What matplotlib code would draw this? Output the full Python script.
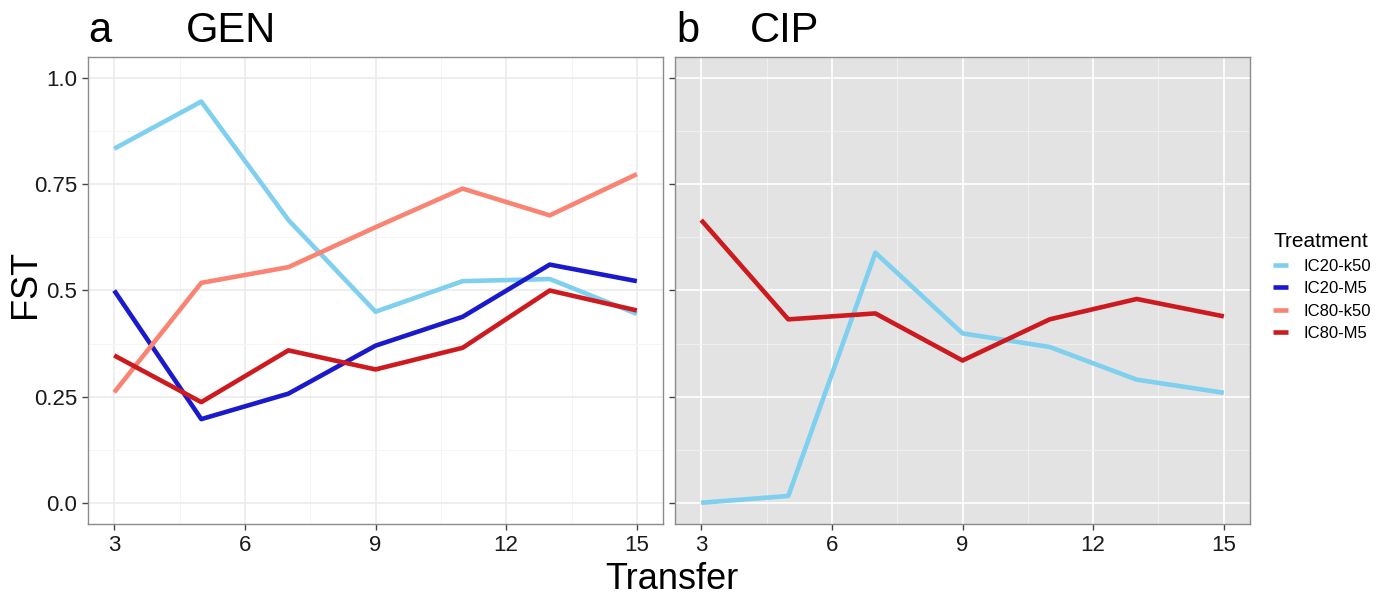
import matplotlib
matplotlib.use("Agg")
import matplotlib.pyplot as plt
import numpy as np

plt.rcParams["font.family"] = ["Liberation Sans", "DejaVu Sans"]

transfer = [3, 5, 7, 9, 11, 13, 15]
treatments = ["IC20-k50", "IC20-M5", "IC80-k50", "IC80-M5"]
colors = ["#7fcfee", "#1a1acc", "#f98473", "#cc1a1f"]

# FST by transfer, GEN panel
gen_ic20_k50 = [0.834, 0.945, 0.666, 0.450, 0.522, 0.527, 0.445]
gen_ic20_m5 = [0.500, 0.197, 0.257, 0.370, 0.438, 0.561, 0.522]
gen_ic80_k50 = [0.260, 0.518, 0.555, 0.649, 0.740, 0.677, 0.774]
gen_ic80_m5 = [0.347, 0.237, 0.359, 0.314, 0.365, 0.500, 0.453]

# FST by transfer, CIP panel (only two treatments)
cip_ic20_k50 = [0.000, 0.016, 0.589, 0.399, 0.367, 0.290, 0.259]
cip_ic80_m5 = [0.666, 0.432, 0.446, 0.335, 0.432, 0.480, 0.439]

gen = {"IC20-k50": gen_ic20_k50, "IC20-M5": gen_ic20_m5,
       "IC80-k50": gen_ic80_k50, "IC80-M5": gen_ic80_m5}
cip = {"IC20-k50": cip_ic20_k50, "IC80-M5": cip_ic80_m5}

fig = plt.figure(figsize=(13.89, 6), dpi=100)
ax1 = fig.add_axes([0.0634, 0.1267, 0.4139, 0.7783])
ax2 = fig.add_axes([0.4860, 0.1267, 0.4139, 0.7783])


def style_panel(ax, face, grid_col, minor_col):
    ax.set_facecolor(face)
    ax.set_xlim(2.4, 15.6)
    ax.set_ylim(-0.05, 1.05)
    ax.set_xticks([3, 6, 9, 12, 15])
    ax.set_xticks([4.5, 7.5, 10.5, 13.5], minor=True)
    ax.set_yticks([0, 0.25, 0.5, 0.75, 1.0])
    ax.set_yticks([0.125, 0.375, 0.625, 0.875], minor=True)
    ax.grid(which="major", color=grid_col, linewidth=1.2)
    ax.grid(which="minor", color=minor_col, linewidth=0.6)
    ax.set_axisbelow(True)
    for s in ax.spines.values():
        s.set_color("#8c8c8c")
        s.set_linewidth(1.0)
    ax.tick_params(which="major", length=4, width=1, color="#444444",
                   labelsize=16, labelcolor="#1a1a1a", pad=4)
    ax.tick_params(which="minor", length=0)


style_panel(ax1, "white", "#ebebeb", "#f4f4f4")
style_panel(ax2, "#e3e3e3", "white", "#f2f2f2")

ax1.set_yticklabels(["0.0", "0.25", "0.5", "0.75", "1.0"])
ax2.set_yticklabels([])

for name, col in zip(treatments, colors):
    ax1.plot(transfer, gen[name], color=col, lw=3.3, label=name,
             solid_capstyle="butt")
    if name in cip:
        ax2.plot(transfer, cip[name], color=col, lw=3.3, solid_capstyle="butt")

fig.text(0.018, 0.527, "FST", fontsize=26, rotation=90,
         ha="center", va="center")
fig.text(0.484, 0.005, "Transfer", fontsize=26, ha="center", va="bottom")

fig.text(0.0634, 0.915, "a", fontsize=30, ha="left", va="bottom")
fig.text(0.134, 0.915, "GEN", fontsize=30, ha="left", va="bottom")
fig.text(0.487, 0.915, "b", fontsize=30, ha="left", va="bottom")
fig.text(0.540, 0.915, "CIP", fontsize=30, ha="left", va="bottom")

handles, labels = ax1.get_legend_handles_labels()
leg = fig.legend(handles, labels, title="Treatment", loc="center left",
                 bbox_to_anchor=(0.906, 0.522), frameon=False, fontsize=12,
                 title_fontsize=15, handlelength=0.9, handletextpad=0.9,
                 labelspacing=0.45)
leg._legend_box.align = "left"

fig.savefig("out.png", dpi=100)
